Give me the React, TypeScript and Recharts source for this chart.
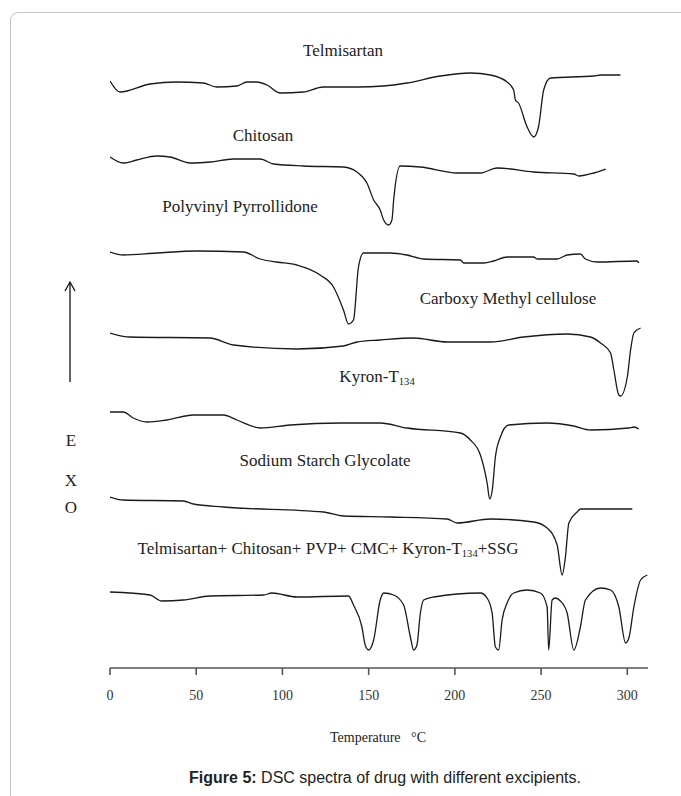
import React from 'react';
import { LineChart, Line, XAxis, YAxis } from 'recharts';

type Pt = { t: number; v: number };

// temperature ticks (°C)
const tempTicks = [0, 50, 100, 150, 200, 250, 300];

// heat flow (arbitrary units, curves are offset vertically as in the figure)
const telmisartan: Pt[] = [
  { t: 0, v: 58.7 }, { t: 5.8, v: 57.6 }, { t: 23.2, v: 58.4 }, { t: 38.7, v: 58.6 },
  { t: 54, v: 58.5 }, { t: 61.9, v: 58.1 }, { t: 73.6, v: 58.2 }, { t: 79.4, v: 58.6 },
  { t: 85.2, v: 58.6 }, { t: 91, v: 58.3 }, { t: 98.7, v: 57.5 }, { t: 112, v: 57.6 },
  { t: 123.7, v: 58.1 }, { t: 143.2, v: 58.1 }, { t: 158.5, v: 58.2 }, { t: 172.2, v: 58.5 },
  { t: 191.6, v: 59.2 }, { t: 209, v: 59.5 }, { t: 220.6, v: 59.3 }, { t: 230.3, v: 58.6 },
  { t: 234.1, v: 57.8 }, { t: 235.1, v: 56.8 }, { t: 236.9, v: 56.5 }, { t: 241.9, v: 54.1 },
  { t: 245.7, v: 53.1 }, { t: 248.5, v: 54.1 }, { t: 251.5, v: 57.8 }, { t: 255.4, v: 59.0 },
  { t: 280.6, v: 59.2 }, { t: 284.5, v: 59.3 }, { t: 296, v: 59.3 },
];

const chitosan: Pt[] = [
  { t: 0, v: 51.1 }, { t: 7.7, v: 50.5 }, { t: 15.5, v: 50.8 }, { t: 27.1, v: 51.2 },
  { t: 34.8, v: 51.1 }, { t: 46.4, v: 50.5 }, { t: 58, v: 50.6 }, { t: 71.6, v: 50.9 },
  { t: 87.1, v: 50.9 }, { t: 94.8, v: 50.4 }, { t: 112.2, v: 50.2 }, { t: 135.4, v: 50.1 },
  { t: 143.2, v: 49.6 }, { t: 149, v: 48.5 }, { t: 152.9, v: 46.8 }, { t: 156.7, v: 45.8 },
  { t: 158.7, v: 44.8 }, { t: 161.6, v: 44.3 }, { t: 163.5, v: 44.8 }, { t: 164.5, v: 46.8 },
  { t: 168.3, v: 50.2 }, { t: 180, v: 50.1 }, { t: 201.3, v: 49.5 }, { t: 214.8, v: 49.5 },
  { t: 224.5, v: 50.0 }, { t: 245.7, v: 49.6 }, { t: 269, v: 49.4 }, { t: 271.9, v: 49.2 },
  { t: 280.6, v: 49.5 }, { t: 287.4, v: 49.9 },
];

const pvp: Pt[] = [
  { t: 0, v: 41.6 }, { t: 7.7, v: 41.3 }, { t: 27.1, v: 41.5 }, { t: 50.3, v: 41.7 },
  { t: 77.4, v: 41.6 }, { t: 87.1, v: 40.9 }, { t: 96.8, v: 40.6 }, { t: 108.4, v: 40.3 },
  { t: 121.9, v: 39.3 }, { t: 129.6, v: 38.1 }, { t: 135.4, v: 35.8 }, { t: 138.3, v: 34.4 },
  { t: 141.2, v: 34.8 }, { t: 144.1, v: 40.1 }, { t: 147, v: 41.5 }, { t: 162.5, v: 41.5 },
  { t: 172.2, v: 41.3 }, { t: 181.9, v: 40.9 }, { t: 203.2, v: 40.8 }, { t: 205.1, v: 40.5 },
  { t: 216.7, v: 40.5 }, { t: 222.5, v: 40.7 }, { t: 230.3, v: 41.1 }, { t: 245.7, v: 41.1 },
  { t: 247.7, v: 40.9 }, { t: 259.3, v: 40.9 }, { t: 265.1, v: 41.3 }, { t: 272.8, v: 41.4 },
  { t: 275.7, v: 40.9 }, { t: 282.5, v: 40.6 }, { t: 305.7, v: 40.7 }, { t: 306.7, v: 40.5 },
];

const cmc: Pt[] = [
  { t: 0, v: 33.5 }, { t: 11.6, v: 33.1 }, { t: 58, v: 33.0 }, { t: 71.6, v: 32.3 },
  { t: 108.4, v: 31.9 }, { t: 135.4, v: 32.2 }, { t: 143.2, v: 32.6 }, { t: 156.7, v: 32.8 },
  { t: 176.1, v: 33.0 }, { t: 195.5, v: 32.6 }, { t: 220.6, v: 32.6 }, { t: 239.9, v: 33.1 },
  { t: 265.1, v: 33.4 }, { t: 278.6, v: 33.1 }, { t: 284.5, v: 32.5 }, { t: 290.3, v: 31.5 },
  { t: 292.2, v: 29.8 }, { t: 295.1, v: 27.3 }, { t: 296.1, v: 27.2 }, { t: 300, v: 29.1 },
  { t: 301.9, v: 31.8 }, { t: 303.8, v: 33.5 }, { t: 307.7, v: 34.0 },
];

const kyron: Pt[] = [
  { t: 0, v: 25.6 }, { t: 7.7, v: 25.6 }, { t: 13.5, v: 25.0 }, { t: 21.3, v: 24.6 },
  { t: 32.9, v: 24.8 }, { t: 48.4, v: 25.3 }, { t: 65.8, v: 25.3 }, { t: 73.6, v: 24.8 },
  { t: 87.1, v: 24.0 }, { t: 104.5, v: 24.3 }, { t: 133.5, v: 24.5 }, { t: 156.7, v: 24.5 },
  { t: 172.2, v: 24.0 }, { t: 203.2, v: 23.5 }, { t: 209, v: 22.8 }, { t: 214.8, v: 21.3 },
  { t: 218.7, v: 18.5 }, { t: 220.2, v: 16.9 }, { t: 221.7, v: 17.8 }, { t: 223.5, v: 21.1 },
  { t: 226.4, v: 23.1 }, { t: 231.2, v: 24.3 }, { t: 253.5, v: 24.5 }, { t: 269, v: 24.2 },
  { t: 278.6, v: 23.8 }, { t: 300.9, v: 24.0 }, { t: 303.8, v: 24.1 }, { t: 306.7, v: 23.9 },
];

const ssg: Pt[] = [
  { t: 0, v: 17.1 }, { t: 7.7, v: 16.8 }, { t: 42.6, v: 16.7 }, { t: 48.4, v: 16.4 },
  { t: 65.8, v: 16.1 }, { t: 123.8, v: 15.6 }, { t: 135.4, v: 15.2 }, { t: 162.5, v: 15.1 },
  { t: 195.5, v: 14.9 }, { t: 201.3, v: 14.5 }, { t: 220.6, v: 14.9 }, { t: 245.7, v: 14.6 },
  { t: 253.5, v: 14.0 }, { t: 259.3, v: 12.3 }, { t: 262.2, v: 9.3 }, { t: 264.1, v: 11.1 },
  { t: 266.1, v: 14.5 }, { t: 270.9, v: 15.6 }, { t: 272.8, v: 15.9 }, { t: 302.9, v: 15.9 },
];

const mixture: Pt[] = [
  { t: 0, v: 7.6 }, { t: 23.2, v: 7.3 }, { t: 30, v: 6.7 }, { t: 42.6, v: 6.8 },
  { t: 58, v: 7.2 }, { t: 89, v: 7.3 }, { t: 93.9, v: 7.5 }, { t: 108.4, v: 7.1 },
  { t: 138.3, v: 7.2 }, { t: 141.2, v: 6.3 }, { t: 146.1, v: 4.1 }, { t: 148, v: 2.3 },
  { t: 150, v: 1.8 }, { t: 152.9, v: 2.8 }, { t: 156.7, v: 6.8 }, { t: 158.7, v: 7.5 },
  { t: 164.5, v: 7.3 }, { t: 170.3, v: 6.3 }, { t: 174.2, v: 3.1 }, { t: 176.1, v: 1.8 },
  { t: 178, v: 2.3 }, { t: 180, v: 5.5 }, { t: 181.9, v: 6.8 }, { t: 187.7, v: 7.1 },
  { t: 214.8, v: 7.5 }, { t: 218.7, v: 7.0 }, { t: 221.6, v: 5.5 }, { t: 223.5, v: 2.1 },
  { t: 225.4, v: 1.8 }, { t: 227.4, v: 4.8 }, { t: 230.3, v: 6.5 }, { t: 234.1, v: 7.5 },
  { t: 241.9, v: 7.8 }, { t: 249.6, v: 7.5 }, { t: 253.5, v: 6.1 }, { t: 254.4, v: 1.8 },
  { t: 256.4, v: 6.8 }, { t: 258.3, v: 7.0 }, { t: 261.2, v: 6.7 }, { t: 265.1, v: 5.5 },
  { t: 269, v: 1.8 }, { t: 272.8, v: 4.1 }, { t: 275.7, v: 6.8 }, { t: 284.5, v: 8.0 },
  { t: 290.3, v: 7.8 }, { t: 295.1, v: 6.1 }, { t: 299, v: 2.5 }, { t: 300.9, v: 3.0 },
  { t: 303.8, v: 6.1 }, { t: 307.7, v: 8.8 }, { t: 311.6, v: 9.3 },
];

const series = [telmisartan, chitosan, pvp, cmc, kyron, ssg, mixture];

const serif = '"Liberation Serif", "Times New Roman", serif';

const Txt: React.FC<{ x: number; y: number; size?: number; children: React.ReactNode }> = ({ x, y, size = 17, children }) => (
  <div
    style={{
      position: 'absolute',
      left: x,
      top: y,
      transform: 'translate(-50%, -50%)',
      fontFamily: serif,
      fontSize: size,
      lineHeight: 1,
      color: '#222',
      whiteSpace: 'nowrap',
    }}
  >
    {children}
  </div>
);

const Sub: React.FC<{ children: React.ReactNode }> = ({ children }) => (
  <span style={{ fontSize: '0.62em', verticalAlign: '-0.25em' }}>{children}</span>
);

export default function App() {
  return (
    <div style={{ position: 'absolute', left: 0, top: 0, width: 681, height: 796, overflow: 'hidden', background: '#fff' }}>
      {/* figure frame */}
      <div
        style={{
          position: 'absolute',
          left: 10,
          top: 12,
          width: 720,
          height: 820,
          border: '1px solid #c4c4c4',
          borderRadius: 8,
        }}
      />

      <div style={{ position: 'absolute', left: 0, top: 0 }}>
        <LineChart width={681} height={796} margin={{ top: 68, right: 33, bottom: 88, left: 110 }}>
          <XAxis
            type="number"
            dataKey="t"
            domain={[0, 312]}
            ticks={tempTicks}
            allowDataOverflow
            height={40}
            tickSize={7}
            tickMargin={15}
            axisLine={{ stroke: '#555', strokeWidth: 1.6 }}
            tickLine={{ stroke: '#555', strokeWidth: 1.6 }}
            tick={{ fill: '#333', fontSize: 14, fontFamily: serif }}
          />
          <YAxis
            type="number"
            dataKey="v"
            domain={[0, 60]}
            width={0}
            tick={false}
            tickLine={false}
            axisLine={{ stroke: '#555', strokeWidth: 1.6 }}
          />
          {series.map((d, i) => (
            <Line
              key={i}
              data={d}
              dataKey="v"
              type="monotone"
              stroke="#1a1a1a"
              strokeWidth={1.3}
              dot={false}
              activeDot={false}
              isAnimationActive={false}
            />
          ))}
        </LineChart>
      </div>

      <Txt x={343} y={50}>Telmisartan</Txt>
      <Txt x={263} y={135}>Chitosan</Txt>
      <Txt x={240} y={206}>Polyvinyl Pyrrollidone</Txt>
      <Txt x={508} y={298}>Carboxy Methyl cellulose</Txt>
      <Txt x={377} y={378}>Kyron-T<Sub>134</Sub></Txt>
      <Txt x={325} y={460}>Sodium Starch Glycolate</Txt>
      <Txt x={328} y={550}>Telmisartan+ Chitosan+ PVP+ CMC+ Kyron-T<Sub>134</Sub>+SSG</Txt>

      {/* EXO arrow */}
      <svg style={{ position: 'absolute', left: 0, top: 0 }} width={140} height={520}>
        <line x1={70} y1={283} x2={70} y2={382} stroke="#111" strokeWidth={1.3} />
        <polyline points="65,291 70,282 75,291" fill="none" stroke="#111" strokeWidth={1.3} />
      </svg>
      <Txt x={71} y={440}>E</Txt>
      <Txt x={71} y={480}>X</Txt>
      <Txt x={71} y={507}>O</Txt>

      <Txt x={378} y={738} size={14}>Temperature&nbsp;&nbsp;&nbsp;°C</Txt>

      <div
        style={{
          position: 'absolute',
          left: 385,
          top: 778,
          transform: 'translate(-50%, -50%)',
          fontFamily: '"Liberation Sans", Arial, sans-serif',
          fontSize: 16,
          lineHeight: 1,
          color: '#222',
          whiteSpace: 'nowrap',
        }}
      >
        <b>Figure 5:</b> DSC spectra of drug with different excipients.
      </div>
    </div>
  );
}
